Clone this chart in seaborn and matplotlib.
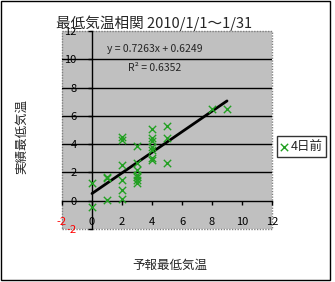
import matplotlib
matplotlib.use("Agg")
import matplotlib.pyplot as plt
import seaborn as sns
import pandas as pd
from matplotlib.patches import Rectangle

# data
forecast = [0, 0,
            1, 1, 1,
            2, 2, 2, 2, 2, 2,
            3, 3, 3, 3, 3, 3, 3,
            4, 4, 4, 4, 4, 4, 4,
            5, 5, 5,
            8, 9]
actual = [1.27, -0.47,
          1.7, 1.6, 0.05,
          4.5, 4.3, 2.5, 1.46, 0.76, 0.1,
          3.9, 2.7, 2.2, 1.8, 1.65, 1.5, 1.25,
          5.1, 4.4, 4.2, 3.8, 3.6, 3.0, 2.85,
          5.3, 4.4, 2.7,
          6.5, 6.5]
series_name = "4日前"
title = "最低気温相関 2010/1/1～1/31"
xlabel = "予報最低気温"
ylabel = "実績最低気温"
eq_text = "y = 0.7263x + 0.6249"
r2_text = "R² = 0.6352"
ticks = [-2, 0, 2, 4, 6, 8, 10, 12]
tick_labels = ["-2", "0", "2", "4", "6", "8", "10", "12"]

df = pd.DataFrame({"forecast": forecast, "actual": actual})

sns.set_style("white")
plt.rcParams["font.family"] = ["Noto Sans CJK JP", "DejaVu Sans"]

fig = plt.figure(figsize=(3.35, 2.82), dpi=100)
ax = fig.add_axes([62 / 335, 1 - 229 / 282, 210 / 335, 198 / 282])
ax.set_facecolor("#c0c0c0")

green = "#22a022"
sns.scatterplot(data=df, x="forecast", y="actual", marker="x", color=green,
                s=28, linewidth=1, ax=ax, label=series_name, zorder=3)
sns.regplot(data=df, x="forecast", y="actual", scatter=False, ci=None,
            color="black", line_kws={"linewidth": 2}, ax=ax)

ax.set_xlim(-2, 12)
ax.set_ylim(-2, 12)
ax.set_xticks(ticks)
ax.set_yticks(ticks)
ax.set_xticklabels(tick_labels)
ax.set_yticklabels(tick_labels)
for lbl in ax.get_xticklabels() + ax.get_yticklabels():
    if lbl.get_text().startswith("-"):
        lbl.set_color("red")

# gridlines
for t in ticks[1:-1]:
    if t != 0:
        ax.axhline(t, color="black", linewidth=1, zorder=1)

for side in ["left", "bottom"]:
    ax.spines[side].set_position(("data", 0))
    ax.spines[side].set_color("black")
    ax.spines[side].set_linewidth(1)
    ax.spines[side].set_zorder(2)
for side in ["top", "right"]:
    ax.spines[side].set_visible(False)
ax.add_patch(Rectangle((0, 0), 1, 1, transform=ax.transAxes, fill=False,
                       edgecolor="#808080", linestyle=(0, (1, 1)),
                       linewidth=1, clip_on=False, zorder=0.5))

ax.tick_params(axis="x", direction="out", length=3, width=1, pad=9,
               labelsize=8, colors="black", bottom=True)
ax.tick_params(axis="y", direction="out", length=3, width=1, pad=8,
               labelsize=8, colors="black", left=True)
for lbl in ax.get_xticklabels() + ax.get_yticklabels():
    if lbl.get_text().startswith("-"):
        lbl.set_color("red")

ax.set_xlabel(xlabel, fontsize=9)
ax.set_ylabel(ylabel, fontsize=9)
ax.xaxis.set_label_coords((170 - 62) / 210, -0.15)
ax.yaxis.set_label_coords(-0.16, (229 - 137) / 198)

ax.text((155 - 62) / 210, (229 - 49) / 198, eq_text, transform=ax.transAxes,
        ha="center", va="center", fontsize=7.5)
ax.text((155 - 62) / 210, (229 - 68) / 198, r2_text, transform=ax.transAxes,
        ha="center", va="center", fontsize=7.5)

fig.text(154 / 335, 1 - 23 / 282, title, ha="center", va="center", fontsize=10.5)

handles, labels = ax.get_legend_handles_labels()
ax.legend_.remove()
leg = fig.legend(handles, labels, loc="center", bbox_to_anchor=(301.5 / 335, 1 - 146.5 / 282),
                 frameon=True, fancybox=False, fontsize=9, handlelength=0.6,
                 handletextpad=0.2, borderpad=0.3, borderaxespad=0)
leg.get_frame().set_edgecolor("black")
leg.get_frame().set_linewidth(1)

fig.patches.append(Rectangle((1 / 335, 2 / 282), 329 / 335, 279 / 282,
                             transform=fig.transFigure, fill=False,
                             edgecolor="black", linewidth=1))

fig.savefig("out.png", dpi=100)
